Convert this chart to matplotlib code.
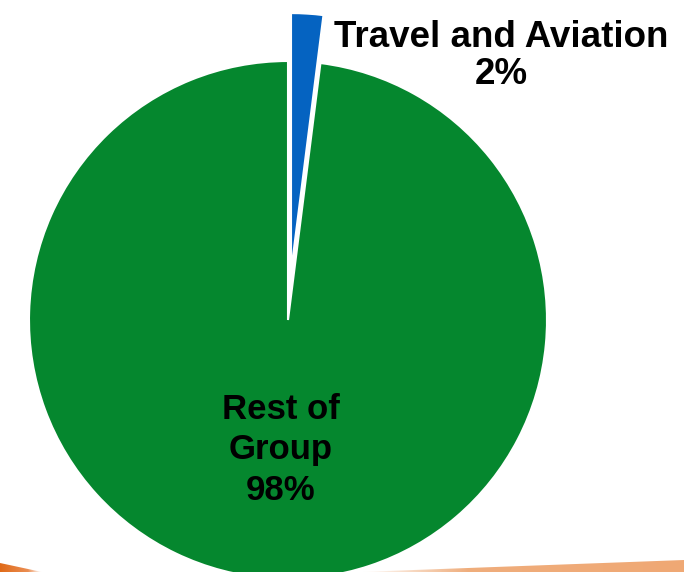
import numpy as np
import matplotlib as mpl
mpl.use("Agg")
import matplotlib.pyplot as plt
from matplotlib.patches import Polygon

labels = ["Travel and Aviation", "Rest of\nGroup"]
shares = [2, 98]
colors = ["#0563C1", "#05872E"]

W, H = 684, 572
fig = plt.figure(figsize=(W / 100, H / 100), dpi=100)
ax = fig.add_axes([0, 0, 1, 1])

cx, cy, r = 288, H - 320, 259
ax.pie(shares, colors=colors, startangle=90, counterclock=False,
       center=(cx, cy), radius=r, explode=[48, 0],
       wedgeprops=dict(edgecolor="white", linewidth=1.5))

font = dict(family=["Liberation Sans", "DejaVu Sans"], fontweight="bold",
            color="black", ha="center", va="center")
ax.text(501, H - 56, f"{labels[0]}\n{shares[0]}%", fontsize=26.5,
        linespacing=1.1, **font)
ax.text(281, H - 450, f"{labels[1]}\n{shares[1]}%", fontsize=25,
        linespacing=1.28, **font)

# orange swoosh along the bottom edge
def swoosh(pts, c0, c1, x0, x1):
    poly = Polygon(pts, closed=True, facecolor="none", edgecolor="none")
    ax.add_patch(poly)
    g = np.linspace(0, 1, 256)
    rgba = np.zeros((1, 256, 4))
    rgba[0, :, :3] = np.array(mpl.colors.to_rgb(c0))[None, :] * (1 - g[:, None]) + \
        np.array(mpl.colors.to_rgb(c1))[None, :] * g[:, None]
    rgba[0, :, 3] = np.clip(g * 3, 0, 1) if x0 > x1 else np.clip((1 - g) * 3, 0, 1)
    im = ax.imshow(rgba, extent=[min(x0, x1), max(x0, x1), 0, 20],
                   aspect="auto", zorder=3)
    im.set_clip_path(poly)

swoosh([(360, 0), (684, 12), (684, 0)], "#F0B080", "#EFA874", 684, 360)
swoosh([(0, 9), (42, 0), (0, 0)], "#E06A18", "#F0A070", 0, 42)

ax.set_xlim(0, W)
ax.set_ylim(0, H)
ax.set_aspect("auto")
ax.axis("off")

fig.savefig("out.png", dpi=100)
